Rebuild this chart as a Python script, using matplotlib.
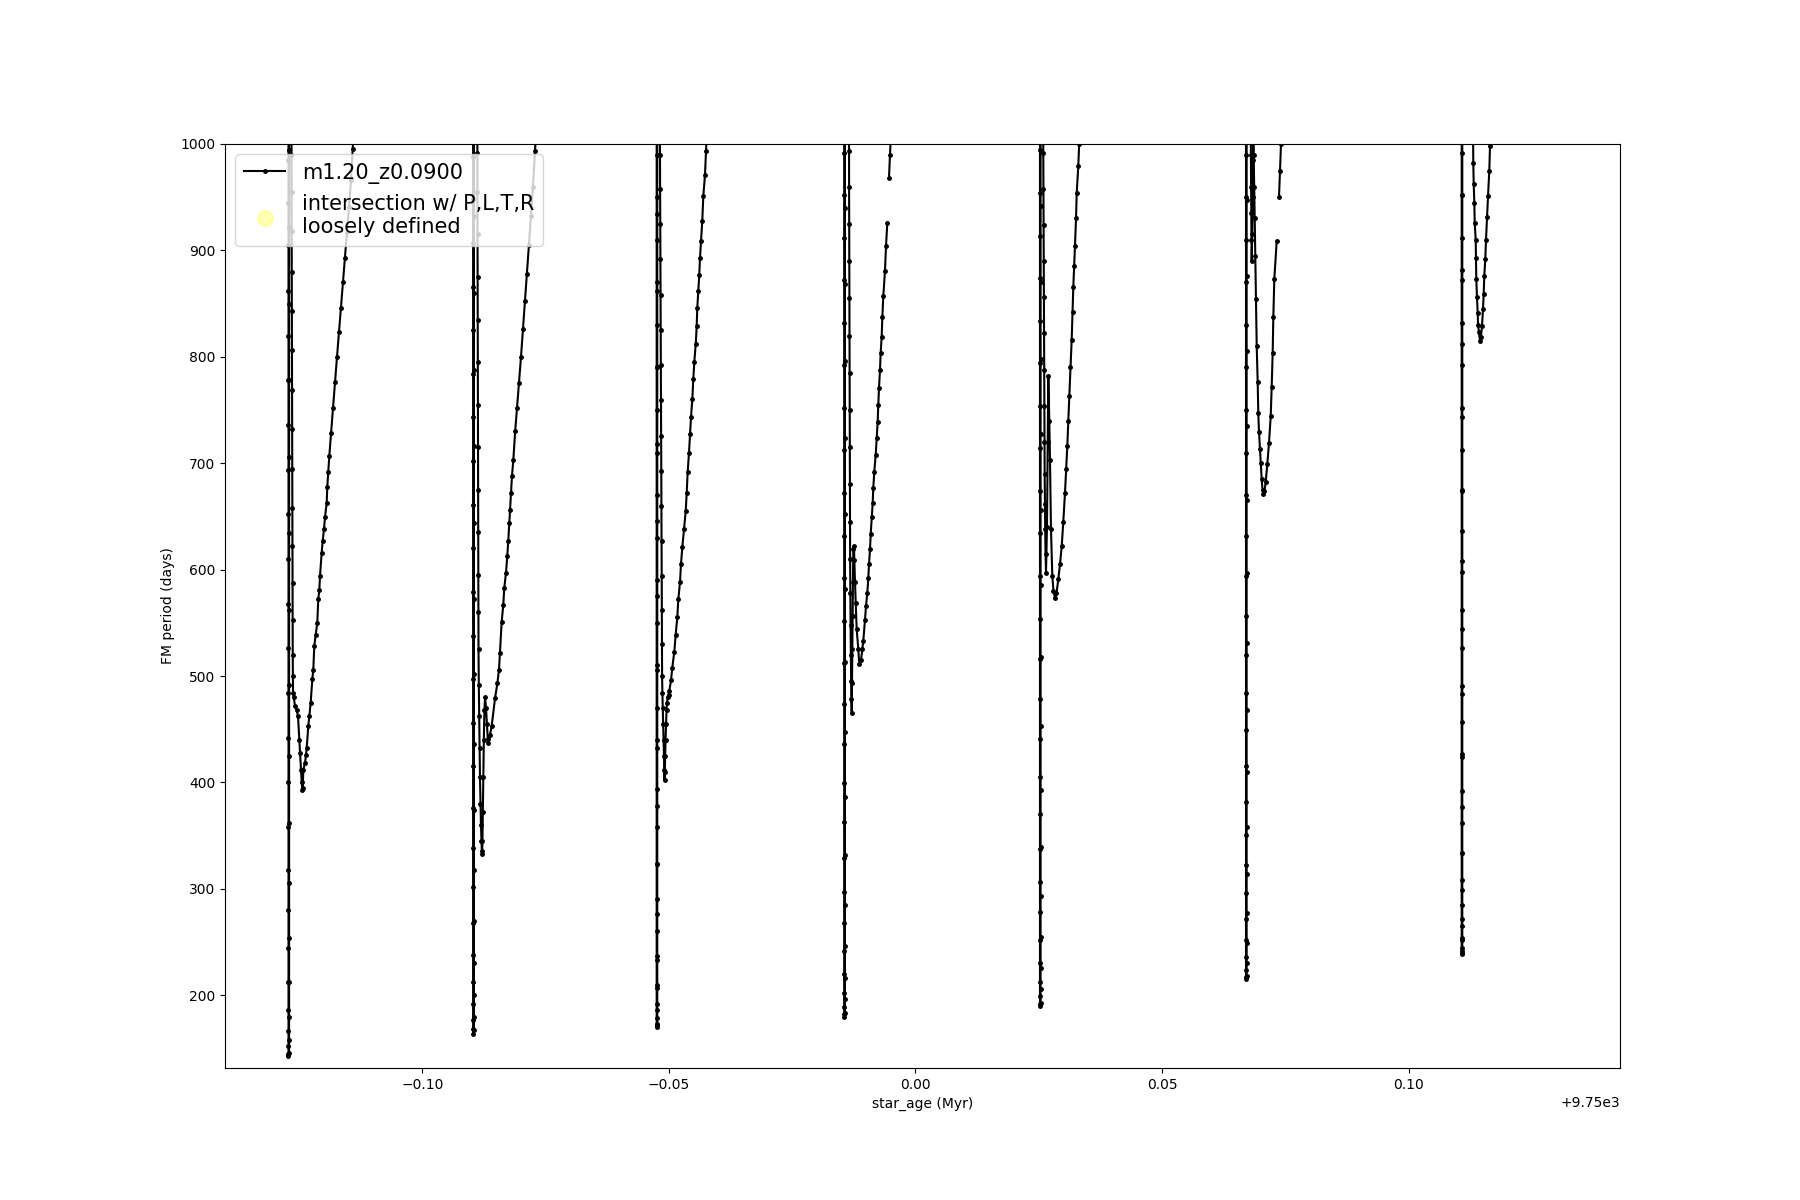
import numpy as np
import matplotlib
matplotlib.use("Agg")
import matplotlib.pyplot as plt

AGE_BASE = 9750.0  # Myr
nan = np.nan

# spike (fast drop) ages, offsets from AGE_BASE (Myr): down branch, up branch
spike_down_age = [-0.12718, -0.08970, -0.05250, -0.01444, 0.02525, 0.06704, 0.11079]
spike_up_age = [-0.12706, -0.08958, -0.05238, -0.01432, 0.02537, 0.06716, 0.11091]

spike_down_period = [
    [1150, 985, 945, 905, 862, 820, 778, 736, 694, 652, 610, 568, 526, 484, 442, 400, 358, 318, 280, 244, 212, 186, 166, 152, 145, 143],
    [1150, 988, 948, 907, 866, 825, 784, 743, 702, 661, 620, 579, 538, 497, 456, 415, 376, 338, 302, 268, 238, 212, 192, 177, 168, 164],
    [1150, 990, 950, 910, 870, 830, 790, 750, 710, 670, 630, 590, 550, 510, 470, 432, 394, 358, 323, 290, 260, 233, 210, 192, 179, 172, 170],
    [1150, 992, 952, 912, 872, 832, 792, 752, 712, 672, 632, 592, 552, 512, 474, 436, 399, 363, 329, 297, 268, 242, 220, 202, 189, 182, 180],
    [1150, 994, 954, 914, 874, 834, 794, 754, 714, 674, 634, 594, 554, 516, 478, 441, 405, 370, 337, 306, 278, 252, 230, 212, 199, 192, 190],
    [1150, 990, 950, 910, 870, 830, 790, 750, 710, 670, 632, 594, 556, 520, 484, 449, 415, 382, 351, 322, 296, 272, 252, 236, 224, 217, 215],
    [1150, 992, 952, 912, 872, 832, 792, 752, 712, 674, 636, 598, 562, 526, 491, 457, 424, 392, 362, 334, 308, 285, 265, 252, 244, 240, 239],
]
spike_up_period = [
    [146, 158, 180, 212, 254, 305, 362, 425, 492, 562, 634, 706, 778, 850, 922, 994, 1080, 1200],
    [167, 180, 200, 230, 270, 318, 374, 436, 502, 572, 644, 716, 788, 860, 932, 1004, 1090, 1200],
    [173, 186, 207, 237, 276, 323, 378, 440, 506, 575, 646, 718, 790, 862, 934, 1006, 1100, 1200],
    [183, 196, 216, 246, 285, 332, 386, 447, 513, 582, 652, 724, 796, 868, 940, 1012, 1100, 1200],
    [193, 206, 226, 255, 293, 339, 393, 453, 518, 586, 656, 727, 798, 870, 942, 1014, 1100, 1200],
    [218, 230, 249, 277, 314, 358, 410, 468, 531, 597, 665, 735, 805, 876, 947, 1018, 1100, 1200],
    [242, 254, 272, 299, 334, 377, 427, 483, 544, 608, 675, 743, 812, 882, 952, 1022, 1100, 1200],
]

# recovery branches after each spike
tail_age_1 = [-0.12660, -0.12658, -0.12656, -0.12654, -0.12652, -0.12650, -0.12648, -0.12646, -0.12644, -0.12642,
              -0.12640, -0.12638, -0.12636, -0.12634, -0.12632, -0.12629, -0.12626,
              -0.12613, -0.12586, -0.12552, -0.12525, -0.12499, -0.12485, -0.12465, -0.12450, -0.12438, -0.12428,
              -0.12418, -0.12383, -0.12363, -0.12349, -0.12317, -0.12296, -0.12268, -0.12235, -0.12215, -0.12195,
              -0.12166, -0.12134, -0.12114, -0.12093, -0.12079, -0.12045, -0.12024, -0.11998, -0.11978, -0.11943,
              -0.11931, -0.11911, -0.11890, -0.11856, -0.11815, -0.11775, -0.11734, -0.11694, -0.11653, -0.11613,
              -0.11572, -0.11531, -0.11491, -0.11450, -0.11416, -0.11383, -0.11320]
tail_period_1 = [1200, 990, 955, 918, 880, 843, 806, 769, 732, 695, 658, 622, 587, 553, 520, 500, 484,
                 480, 472, 468, 462, 440, 428, 412, 400, 393, 395,
                 412, 418, 426, 432, 453, 462, 475, 497, 506, 528, 539, 550, 572, 581, 594, 616, 627, 638, 649, 663,
                 678, 692, 707, 728, 752, 776, 800, 823, 846, 870, 893, 917, 941, 966, 995, 1020, 1060]

tail_age_2 = [-0.08892, -0.08888, -0.08886, -0.08884, -0.08882, -0.08880, -0.08878, -0.08876, -0.08874, -0.08872,
              -0.08870, -0.08868, -0.08866, -0.08864, -0.08858, -0.08850, -0.08843, -0.08834, -0.08824, -0.08814,
              -0.08804, -0.08797, -0.08791,
              -0.08784, -0.08776, -0.08766, -0.08756, -0.08744, -0.08730, -0.08712, -0.08694, -0.08676, -0.08662,
              -0.08631, -0.08597, -0.08529, -0.08482, -0.08448, -0.08428, -0.08394, -0.08361, -0.08341, -0.08306,
              -0.08280, -0.08260, -0.08239, -0.08225, -0.08205, -0.08185, -0.08158, -0.08120, -0.08083, -0.08043,
              -0.08002, -0.07962, -0.07921, -0.07880, -0.07840, -0.07800, -0.07759, -0.07718, -0.07688, -0.07640]
tail_period_2 = [1200, 992, 955, 915, 875, 835, 795, 755, 715, 675, 635, 595, 560, 525, 492, 462, 432, 405, 380, 360,
                 345, 336, 333,
                 345, 372, 405, 440, 468, 480, 470, 455, 441, 437,
                 445, 453, 479, 493, 506, 522, 551, 567, 583, 597, 613, 627, 644, 656, 672, 688, 703, 730, 752, 775,
                 800, 826, 852, 878, 905, 932, 960, 993, 1020, 1060]

tail_age_3 = [-0.05186, -0.05183, -0.05180, -0.05177, -0.05174, -0.05171, -0.05168, -0.05165, -0.05162, -0.05159,
              -0.05156, -0.05153, -0.05150, -0.05148, -0.05146, -0.05144, -0.05140, -0.05134,
              -0.05126, -0.05118, -0.05110, -0.05102, -0.05096, -0.05091, -0.05085, -0.05078, -0.05070, -0.05060,
              -0.05050, -0.05041, -0.05025, -0.05010,
              -0.04994, -0.04959, -0.04933, -0.04892, -0.04864, -0.04832, -0.04811, -0.04777, -0.04757, -0.04730,
              -0.04696, -0.04661, -0.04641, -0.04621, -0.04594, -0.04574, -0.04554, -0.04527, -0.04507, -0.04487,
              -0.04458, -0.04438, -0.04426, -0.04406, -0.04386, -0.04371, -0.04351, -0.04325, -0.04304, -0.04270,
              -0.04249, -0.04229, -0.04180]
tail_period_3 = [1200, 990, 958, 925, 892, 858, 825, 792, 759, 726, 693, 660, 627, 594, 562, 530, 500, 484,
                 470, 455, 440, 425, 412, 402, 410, 425, 440, 455, 468, 475, 480, 482,
                 486, 496, 508, 523, 539, 555, 572, 588, 605, 621, 638, 655, 672, 692, 710, 727, 743, 760, 779, 795,
                 812, 829, 846, 862, 877, 893, 909, 928, 951, 971, 993, 1015, 1060]

tail_age_4 = [-0.01352, -0.01349, -0.01347, -0.01345, -0.01343, -0.01341, -0.01339, -0.01337, -0.01335, -0.01333,
              -0.01331, -0.01329, -0.01326, -0.01322, -0.01317, -0.01311, -0.01305, -0.01299, -0.01294,
              -0.01288, -0.01282, -0.01274, -0.01268, -0.01262, -0.01247,
              -0.01241, -0.01227, -0.01213, -0.01193, -0.01160, -0.01140,
              -0.01105, -0.01079, -0.01059, -0.01024, -0.01004, -0.00978, -0.00957, -0.00943, -0.00923, -0.00909,
              -0.00888, -0.00868, -0.00856, -0.00836, -0.00807, -0.00787, -0.00767, -0.00755, -0.00740, -0.00720,
              -0.00706, -0.00686, -0.00673, -0.00653, -0.00619, -0.00598, -0.00572, nan, -0.00538, -0.00517,
              -0.00497, -0.00460]
tail_period_4 = [1200, 993, 960, 925, 890, 855, 820, 785, 750, 715, 680, 645, 610, 578, 548, 520, 495, 478, 465,
                 493, 525, 556, 588, 619, 622,
                 609, 588, 569, 544, 525, 511,
                 515, 525, 533, 553, 566, 578, 592, 605, 619, 633, 649, 663, 677, 692, 708, 724, 739, 755, 771, 788,
                 804, 819, 837, 857, 881, 904, 926, nan, 968, 990, 1012, 1050]

tail_age_5 = [0.02588, 0.02592, 0.02595, 0.02598, 0.02601, 0.02604, 0.02607, 0.02610, 0.02613, 0.02616, 0.02620,
              0.02625, 0.02631, 0.02638, 0.02647,
              0.02667, 0.02682, 0.02694, 0.02714, 0.02728, 0.02748, 0.02775, 0.02799, 0.02830,
              0.02860, 0.02897, 0.02931, 0.02966, 0.02998, 0.03032, 0.03057, 0.03079, 0.03099, 0.03120, 0.03144,
              0.03168, 0.03185, 0.03201, 0.03219, 0.03235, 0.03256, 0.03270, 0.03302, 0.03320, 0.03337, 0.03380]
tail_period_5 = [1200, 992, 958, 924, 890, 856, 822, 788, 754, 720, 690, 662, 638, 615, 597,
                 640, 720, 782, 740, 703, 638, 594, 580, 573,
                 578, 591, 605, 622, 645, 672, 695, 716, 740, 763, 790, 816, 842, 866, 885, 904, 930, 954, 979, 1000,
                 1020, 1060]

tail_age_6 = [0.06799, 0.06803, 0.06807, 0.06811, 0.06815, 0.06819, 0.06830, 0.06838, 0.06846, 0.06852,
              0.06860, 0.06870, 0.06880, 0.06892, 0.06907, 0.06921, 0.06941, 0.06953, 0.06968, 0.06988, 0.07002,
              0.07022, 0.07039, 0.07055,
              0.07079, 0.07103, 0.07136, 0.07170, 0.07205, 0.07225, 0.07245, 0.07258, 0.07278, 0.07327, nan,
              0.07373, 0.07394, 0.07414, 0.07434, 0.07480]
tail_period_6 = [1150, 990, 960, 935, 910, 890, 915, 950, 985, 1040,
                 990, 960, 930, 895, 854, 810, 776, 747, 729, 713, 700, 685, 675, 671,
                 674, 682, 699, 719, 744, 772, 804, 837, 873, 909, nan, 950, 975, 1000, 1030, 1080]

tail_age_7 = [0.11290, 0.11314, 0.11323, 0.11335, 0.11343, 0.11363, 0.11369, 0.11375, 0.11389, 0.11404, 0.11410,
              0.11430, 0.11450,
              0.11471, 0.11491, 0.11511, 0.11525, 0.11537, 0.11558, 0.11572, 0.11592, 0.11613, 0.11639, 0.11653,
              0.11673, 0.11720, 0.13000]
tail_period_7 = [1150, 982, 962, 945, 926, 910, 893, 873, 856, 841, 830, 823, 815,
                 819, 829, 845, 859, 876, 892, 910, 931, 951, 975, 998, 1025, 1070, 1500]

tail_ages = [tail_age_1, tail_age_2, tail_age_3, tail_age_4, tail_age_5, tail_age_6, tail_age_7]
tail_periods = [tail_period_1, tail_period_2, tail_period_3, tail_period_4, tail_period_5, tail_period_6,
                tail_period_7]

# assemble the track
ages, periods = [], []
for k in range(7):
    d = spike_down_period[k]
    u = spike_up_period[k]
    ages += [spike_down_age[k]] * len(d) + [spike_up_age[k]] * len(u) + list(tail_ages[k])
    periods += list(d) + list(u) + list(tail_periods[k])
age = AGE_BASE + np.array(ages, dtype=float)
period = np.array(periods, dtype=float)

fig, ax = plt.subplots(figsize=(18, 12), dpi=100)
ax.plot(age, period, color='k', marker='.', markersize=5, linewidth=1.5, label='m1.20_z0.0900')
ax.scatter([], [], s=120, color='yellow', alpha=0.3, label='intersection w/ P,L,T,R\nloosely defined')

ax.set_xlim(AGE_BASE - 0.14006, AGE_BASE + 0.14290)
ax.set_ylim(131.6, 1000)
ax.set_xlabel('star_age (Myr)')
ax.set_ylabel('FM period (days)')
ax.legend(loc='upper left', fontsize=15)

fig.savefig('out.png', dpi=100)
